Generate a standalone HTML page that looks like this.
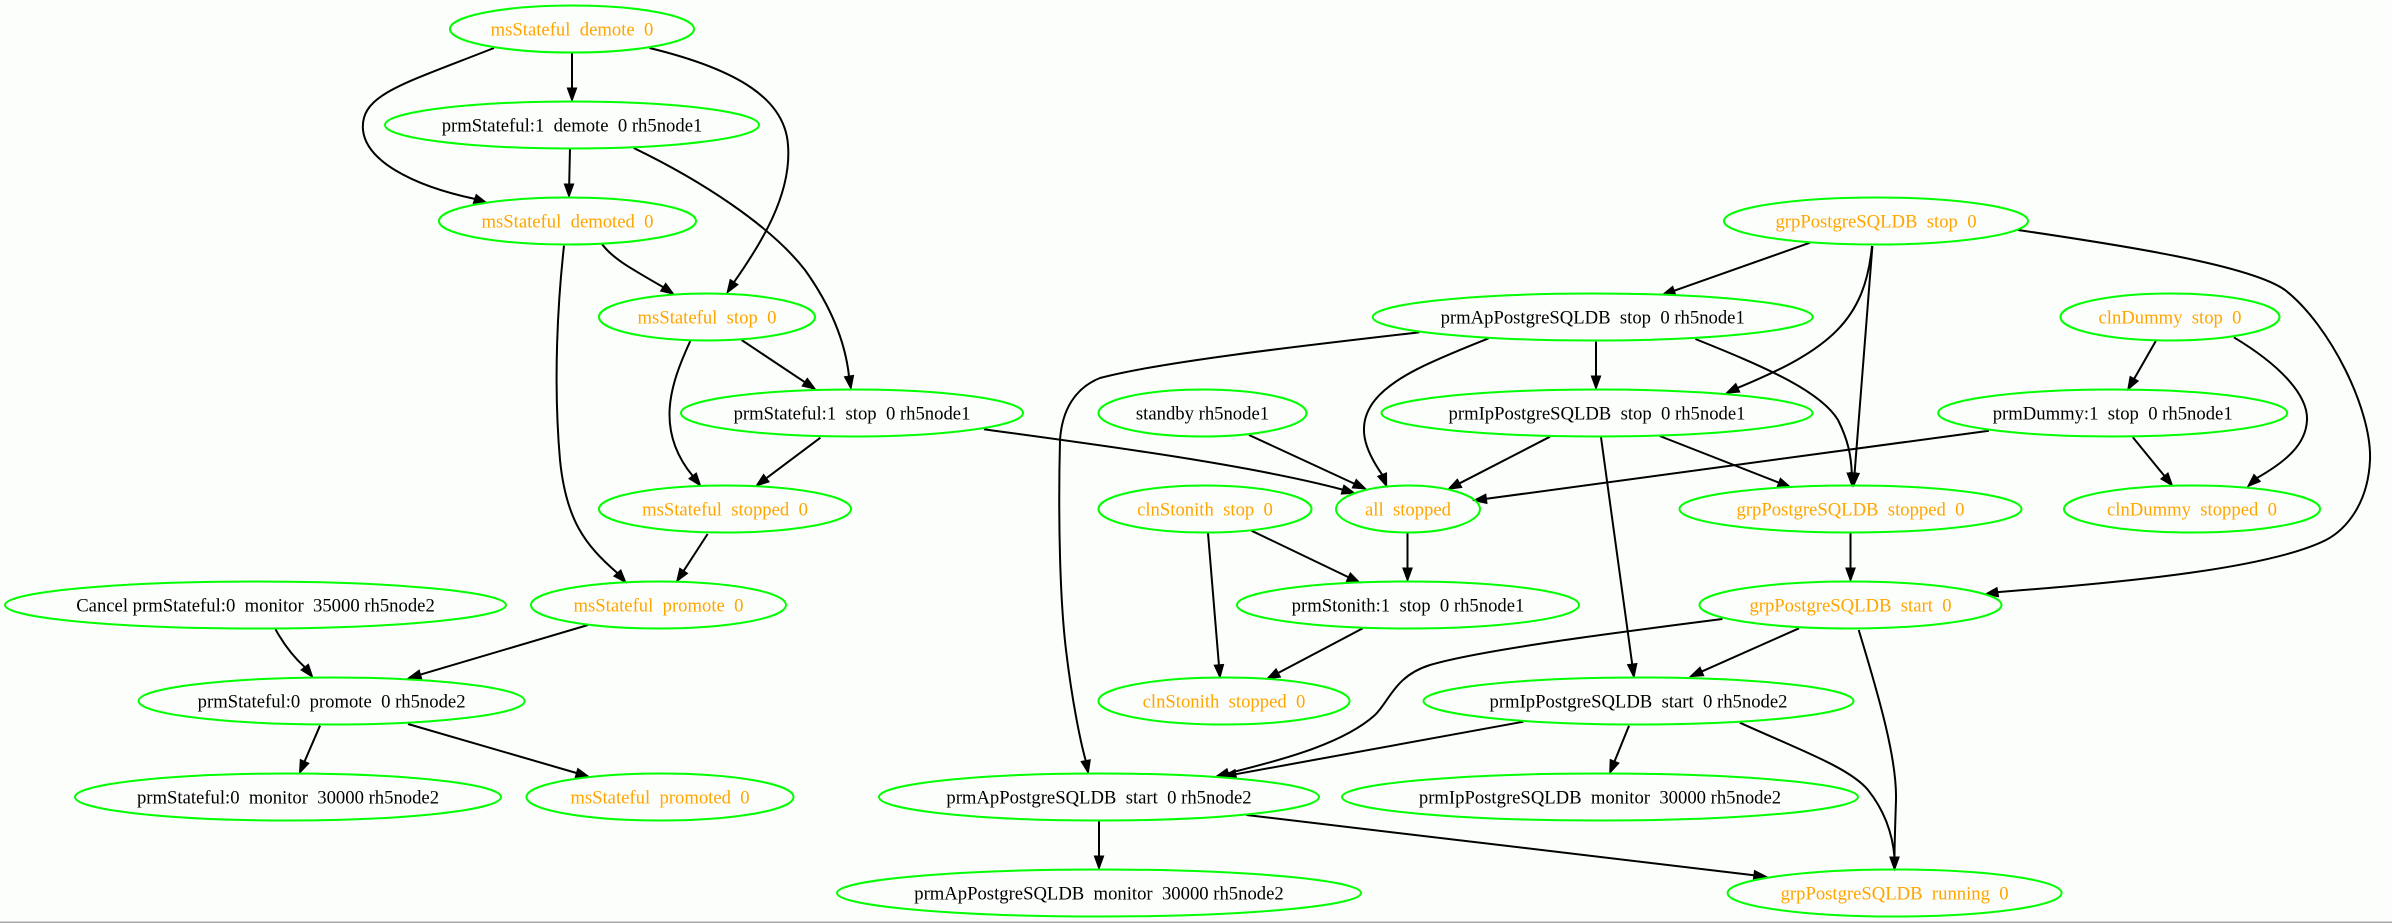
<!DOCTYPE html>
<html><head><meta charset="utf-8"><style>
html,body{margin:0;padding:0;background:#fcfefc;}
svg{display:block;}
text{font-family:"Liberation Serif","Times New Roman",serif;font-size:18.67px;white-space:pre;text-anchor:middle;}
.o{fill:#ffa500;}
.b{fill:#000;}
ellipse{fill:none;stroke:#00ff00;stroke-width:2;}
path{fill:none;stroke:#000;stroke-width:2;}
polygon{fill:#000;stroke:#000;stroke-width:1;}
</style></head><body>
<svg width="2392" height="923" viewBox="0 0 2392 923" xmlns="http://www.w3.org/2000/svg">
<rect x="0" y="0" width="2392" height="923" fill="#fcfefc"/>
<rect x="0" y="921.5" width="2392" height="1.5" fill="#a8a8a8"/>

<!-- edges -->
<path d="M572,53 L572,88"/><polygon points="572,101 567.3,88 576.7,88"/>
<path d="M494,48 C400,85 360,95 363,130 C366,160 410,185 474.7,198.9"/><polygon points="487,203 473.2,203.4 476.2,194.4"/>
<path d="M649.5,48 C740,70 785,100 788,145 C792,195 760,245 734.1,282.1"/><polygon points="727,293 730.2,279.5 738,284.7"/>
<path d="M570,148 L569.2,184"/><polygon points="569,197 564.3,184 573.7,184"/>
<path d="M633.7,148 C700,180 770,225 805,270 C830,305 845,340 849,376.1"/><polygon points="851,389 844.4,376.8 853.6,375.4"/>
<path d="M602,244 C612,258 630,268 663.1,287.1"/><polygon points="673.9,294.3 660.5,291 665.7,283.2"/>
<path d="M564,245.7 C558,300 553,380 560,460 C566,520 585,545 617.3,573"/><polygon points="626,582.7 613.8,576.1 620.8,569.9"/>
<path d="M741.6,340 L804.7,382.1"/><polygon points="815.5,389.3 802.1,386 807.3,378.2"/>
<path d="M690.3,341 C670,385 655,430 692.6,475.8"/><polygon points="700.7,486 688.9,478.7 696.3,472.9"/>
<path d="M820.4,437.7 L766.4,478.2"/><polygon points="756,486 763.6,474.4 769.2,481.9"/>
<path d="M983.9,429.3 C1100,445 1250,465 1342.5,489.6"/><polygon points="1355,493.3 1341.2,494.1 1343.9,485.1"/>
<path d="M707.6,534 L683.7,570.8"/><polygon points="676.6,581.7 679.8,568.2 687.6,573.4"/>
<path d="M588,625 L420.5,674.6"/><polygon points="408,678.3 419.2,670.1 421.8,679.1"/>
<path d="M275.5,629.3 Q288,652 304.7,667.1"/><polygon points="312.8,677.3 301,670 308.4,664.2"/>
<path d="M320,725.7 L304.6,761.4"/><polygon points="299.5,773.3 300.3,759.5 308.9,763.3"/>
<path d="M408,724 L576.5,773"/><polygon points="589,776.7 575.2,777.5 577.8,768.5"/>

<path d="M1810,242.7 L1674.3,290.7"/><polygon points="1662,295 1672.7,286.3 1675.9,295.1"/>
<path d="M1872,246 C1865,320 1830,350 1737.8,387.8"/><polygon points="1726,393.3 1735.8,383.5 1739.8,392.1"/>
<path d="M1872.4,246 L1854.6,473"/><polygon points="1853.6,486 1849.9,472.6 1859.3,473.4"/>
<path d="M2018,230 C2120,245 2250,265 2285,290 C2330,325 2372,410 2370,460 C2368,505 2345,530 2326,540 C2270,568 2130,582 1997.8,592.1"/><polygon points="1985,594.3 1997,587.5 1998.6,596.7"/>
<path d="M1419.4,332.3 C1300,346 1160,362 1100,378 C1075,388 1062,410 1060,440 C1058,520 1060,600 1066,650 C1072,700 1080,740 1085.7,760.6"/><polygon points="1088.3,773.3 1081.1,761.5 1090.3,759.7"/>
<path d="M1488.6,338.3 C1440,358 1395,375 1375,400 C1355,425 1365,450 1382.1,474.6"/><polygon points="1386.7,486.7 1377.7,476.3 1386.5,472.9"/>
<path d="M1596,341.7 L1596,376"/><polygon points="1596,389 1591.3,376 1600.7,376"/>
<path d="M1695.4,339 C1760,365 1820,390 1838,420 C1848,440 1851,455 1851.8,473"/><polygon points="1852,486 1847.1,473 1856.5,473"/>
<path d="M1249,435 L1354.2,483.6"/><polygon points="1366,489 1352.2,487.9 1356.2,479.3"/>
<path d="M1550,436.7 L1459.6,483.3"/><polygon points="1448,489.3 1457.4,479.1 1461.8,487.5"/>
<path d="M1989,430.7 L1486.4,498.8"/><polygon points="1473.5,500.5 1485.8,494.1 1487,503.5"/>
<path d="M1659.7,436 L1778.7,482.6"/><polygon points="1790.8,487.3 1777,487 1780.4,478.2"/>
<path d="M1601,437.3 L1632.2,664.1"/><polygon points="1634,677.5 1627.5,664.7 1636.9,663.5"/>
<path d="M2155.8,341 L2134.2,378.7"/><polygon points="2127.7,390 2130.1,376.4 2138.3,381"/>
<path d="M2233.8,337.3 C2280,365 2308,395 2307,420 C2306,445 2285,462 2257.2,477.9"/><polygon points="2247.6,486.7 2254,474.4 2260.4,481.4"/>
<path d="M2132.8,437.3 L2164.4,475.9"/><polygon points="2172.6,486 2160.8,478.9 2168,472.9"/>
<path d="M1407.5,533 L1407.5,568"/><polygon points="1407.5,581 1402.8,568 1412.2,568"/>
<path d="M1251.5,530.7 L1348.3,577.1"/><polygon points="1360,582.7 1346.3,581.3 1350.3,572.9"/>
<path d="M1208,533.3 L1218.9,664.8"/><polygon points="1220,677.8 1214.2,665.2 1223.6,664.4"/>
<path d="M1362.8,628.3 L1278.3,672.9"/><polygon points="1266.8,679 1276.1,668.7 1280.5,677.1"/>
<path d="M1850.5,533 L1850.5,568"/><polygon points="1850.5,581 1845.8,568 1855.2,568"/>
<path d="M1722.4,619 C1620,632 1480,650 1430,665 C1395,676 1390,700 1375,715 C1345,742 1290,758 1228.3,773.2"/><polygon points="1215.8,776.7 1227,768.7 1229.6,777.7"/>
<path d="M1799,628.3 L1701.9,671.4"/><polygon points="1690,676.7 1700,667.1 1703.8,675.7"/>
<path d="M1858.7,630 C1880,700 1897,760 1896,800 C1895,830 1894.5,845 1894.5,857"/>
<path d="M1739.8,722.7 C1800,750 1850,768 1868,790 C1888,815 1893,840 1894.5,857"/><polygon points="1894.5,870 1889.8,857 1899.2,857"/>
<path d="M1523.5,721.7 L1235.8,774.2"/><polygon points="1223,776.5 1235,769.6 1236.6,778.8"/>
<path d="M1629,725.7 L1614.6,761.3"/><polygon points="1609.7,773.3 1610.2,759.5 1619,763.1"/>
<path d="M1099,821 L1099,856"/><polygon points="1099,869 1094.3,856 1103.7,856"/>
<path d="M1246.4,815 L1753.9,875.2"/><polygon points="1766.8,876.7 1753.3,879.9 1754.5,870.5"/>

<!-- nodes -->
<ellipse cx="572" cy="29" rx="122" ry="23.5"/><text class="o" x="572" y="35.5">msStateful  demote  0</text>
<ellipse cx="572" cy="125" rx="187" ry="23.5"/><text class="b" x="572" y="131.5">prmStateful:1  demote  0 rh5node1</text>
<ellipse cx="567.5" cy="221" rx="128.5" ry="23.5"/><text class="o" x="567.5" y="227.5">msStateful  demoted  0</text>
<ellipse cx="707" cy="317" rx="108" ry="23.5"/><text class="o" x="707" y="323.5">msStateful  stop  0</text>
<ellipse cx="852" cy="413" rx="171" ry="23.5"/><text class="b" x="852" y="419.5">prmStateful:1  stop  0 rh5node1</text>
<ellipse cx="725" cy="509" rx="126" ry="23.5"/><text class="o" x="725" y="515.5">msStateful  stopped  0</text>
<ellipse cx="658.5" cy="605" rx="127.5" ry="23.5"/><text class="o" x="658.5" y="611.5">msStateful  promote  0</text>
<ellipse cx="255.5" cy="605" rx="250.5" ry="23.5"/><text class="b" x="255.5" y="611.5">Cancel prmStateful:0  monitor  35000 rh5node2</text>
<ellipse cx="331.6" cy="701" rx="193" ry="23.5"/><text class="b" x="331.6" y="707.5">prmStateful:0  promote  0 rh5node2</text>
<ellipse cx="288" cy="797" rx="213" ry="23.5"/><text class="b" x="288" y="803.5">prmStateful:0  monitor  30000 rh5node2</text>
<ellipse cx="660" cy="797" rx="133.5" ry="23.5"/><text class="o" x="660" y="803.5">msStateful  promoted  0</text>

<ellipse cx="1876" cy="221" rx="152" ry="23.5"/><text class="o" x="1876" y="227.5">grpPostgreSQLDB  stop  0</text>
<ellipse cx="1592.7" cy="317" rx="220" ry="23.5"/><text class="b" x="1592.7" y="323.5">prmApPostgreSQLDB  stop  0 rh5node1</text>
<ellipse cx="2170" cy="317" rx="109.5" ry="23.5"/><text class="o" x="2170" y="323.5">clnDummy  stop  0</text>
<ellipse cx="1202.5" cy="413" rx="104" ry="23.5"/><text class="b" x="1202.5" y="419.5">standby rh5node1</text>
<ellipse cx="1597" cy="413" rx="215.5" ry="23.5"/><text class="b" x="1597" y="419.5">prmIpPostgreSQLDB  stop  0 rh5node1</text>
<ellipse cx="2112.7" cy="413" rx="174.5" ry="23.5"/><text class="b" x="2112.7" y="419.5">prmDummy:1  stop  0 rh5node1</text>
<ellipse cx="1205" cy="509" rx="106.5" ry="23.5"/><text class="o" x="1205" y="515.5">clnStonith  stop  0</text>
<ellipse cx="1408" cy="509" rx="72" ry="23.5"/><text class="o" x="1408" y="515.5">all  stopped</text>
<ellipse cx="1850.5" cy="509" rx="171" ry="23.5"/><text class="o" x="1850.5" y="515.5">grpPostgreSQLDB  stopped  0</text>
<ellipse cx="2192" cy="509" rx="128" ry="23.5"/><text class="o" x="2192" y="515.5">clnDummy  stopped  0</text>
<ellipse cx="1408" cy="605" rx="171" ry="23.5"/><text class="b" x="1408" y="611.5">prmStonith:1  stop  0 rh5node1</text>
<ellipse cx="1850.5" cy="605" rx="151" ry="23.5"/><text class="o" x="1850.5" y="611.5">grpPostgreSQLDB  start  0</text>
<ellipse cx="1224" cy="701" rx="125.5" ry="23.5"/><text class="o" x="1224" y="707.5">clnStonith  stopped  0</text>
<ellipse cx="1638.5" cy="701" rx="215" ry="23.5"/><text class="b" x="1638.5" y="707.5">prmIpPostgreSQLDB  start  0 rh5node2</text>
<ellipse cx="1099" cy="797" rx="220" ry="23.5"/><text class="b" x="1099" y="803.5">prmApPostgreSQLDB  start  0 rh5node2</text>
<ellipse cx="1600" cy="797" rx="258" ry="23.5"/><text class="b" x="1600" y="803.5">prmIpPostgreSQLDB  monitor  30000 rh5node2</text>
<ellipse cx="1099" cy="893" rx="262" ry="23.5"/><text class="b" x="1099" y="899.5">prmApPostgreSQLDB  monitor  30000 rh5node2</text>
<ellipse cx="1894.6" cy="893" rx="167" ry="23.5"/><text class="o" x="1894.6" y="899.5">grpPostgreSQLDB  running  0</text>
</svg>
</body></html>
